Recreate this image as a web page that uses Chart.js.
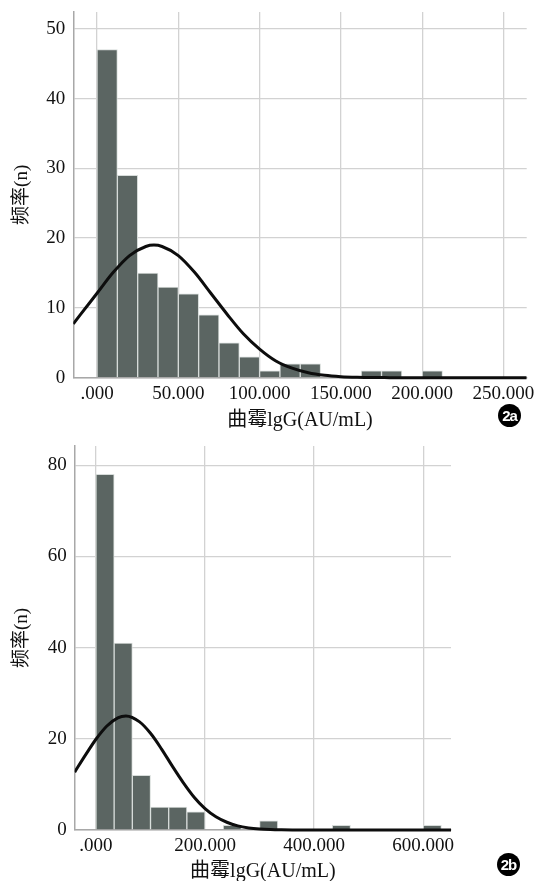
<!DOCTYPE html>
<html>
<head>
<meta charset="utf-8">
<script src="https://cdn.jsdelivr.net/npm/chart.js@4.4.1/dist/chart.umd.min.js"></script>
<style>
  html, body { margin: 0; padding: 0; background: #fff; width: 536px; height: 881px; overflow: hidden; }
  .box { position: absolute; left: 0; }
  .badge { position: absolute; width: 23px; height: 23px; border-radius: 50%; background: #000; color: #fff;
           font: bold 15px "Liberation Sans", Arial, sans-serif; text-align: center; line-height: 23px; letter-spacing: -1px; }
</style>
</head>
<body>
<div class="box" style="top:0;width:536px;height:440px"><canvas id="cA" width="536" height="440"></canvas></div>
<div class="box" style="top:440px;width:536px;height:441px"><canvas id="cB" width="536" height="441"></canvas></div>
<div class="badge" style="left:498px;top:404px">2a</div>
<div class="badge" style="left:497px;top:853px">2b</div>
<script>
// ---------- Data: chart 2a ----------
const binStartA = [0, 12.5, 25, 37.5, 50, 62.5, 75, 87.5, 100, 112.5, 125, 137.5, 150, 162.5, 175, 187.5, 200];
const countA    = [47, 29, 15, 13, 12, 9, 5, 3, 1, 2, 2, 0, 0, 1, 1, 0, 1];
const binWidthA = 12.5;
const curveXA = [-14.6, -10, 0, 10, 20, 30, 35, 40, 50, 60, 70, 80, 90, 100, 110, 120, 130, 140, 150, 160, 170, 180, 200, 264.3];
const curveYA = [7.7, 9.1, 12.1, 15.1, 17.5, 18.8, 19.0, 18.8, 17.5, 15.1, 12.1, 9.1, 6.3, 4.1, 2.4, 1.36, 0.70, 0.34, 0.15, 0.06, 0.02, 0.01, 0, 0];
const xTicksA = [0, 50, 100, 150, 200, 250];
const xTickLabelsA = ['.000', '50.000', '100.000', '150.000', '200.000', '250.000'];
const yTicksA = [0, 10, 20, 30, 40, 50];

// ---------- Data: chart 2b ----------
const binStartB = [0, 33.33, 66.67, 100, 133.33, 166.67, 200, 233.33, 266.67, 300, 333.33, 366.67, 400, 433.33, 466.67, 500, 533.33, 566.67, 600];
const countB    = [78, 41, 12, 5, 5, 4, 0, 1, 0, 2, 0, 0, 0, 1, 0, 0, 0, 0, 1];
const binWidthB = 33.33;
const curveXB = [-39, -20, 0, 20, 40, 55, 80, 100, 120, 140, 160, 180, 200, 220, 240, 260, 280, 300, 320, 340, 360, 400, 651];
const curveYB = [12.7, 16.3, 19.9, 22.8, 24.6, 25.0, 23.7, 21.2, 17.8, 14.0, 10.4, 7.2, 4.7, 2.9, 1.7, 0.9, 0.46, 0.22, 0.1, 0.04, 0.01, 0, 0];
const xTicksB = [0, 200, 400, 600];
const xTickLabelsB = ['.000', '200.000', '400.000', '600.000'];
const yTicksB = [0, 20, 40, 60, 80];

const yTitle = '频率(n)';
const xTitle = '曲霉lgG(AU/mL)';

// ---------- Builder ----------
const SERIF = "'Liberation Serif', 'Noto Sans CJK SC', serif";
function makeChart(id, cfg) {
  const barData = cfg.binStart.map((s, i) => ({ x: s + cfg.binWidth / 2, y: cfg.count[i] === 0 ? null : cfg.count[i] }));
  const lineData = cfg.curveX.map((x, i) => ({ x: x, y: cfg.curveY[i] }));
  return new Chart(document.getElementById(id), {
    type: 'bar',
    data: {
      datasets: [
        { type: 'line', data: lineData, borderColor: '#0d0d0d', borderWidth: 3, pointRadius: 0,
          cubicInterpolationMode: 'monotone', fill: false, order: 0, clip: { left: 0, right: 0, top: 0, bottom: 4 } },
        { type: 'bar', data: barData, backgroundColor: '#5b6562', borderColor: '#d7dcda', borderWidth: 1,
          barPercentage: 1, categoryPercentage: 1, order: 1 }
      ]
    },
    options: {
      responsive: false, animation: false, devicePixelRatio: 1,
      layout: { padding: cfg.padding },
      plugins: { legend: { display: false }, tooltip: { enabled: false } },
      scales: {
        x: {
          type: 'linear', position: 'bottom', min: cfg.xMin, max: cfg.xMax, offset: false,
          grid: { color: '#d2d2d2', lineWidth: 1.3, drawTicks: false, offset: false },
          border: { color: '#a8a8a8', width: 1.5 },
          ticks: { color: '#111', font: { family: SERIF, size: 19 }, padding: cfg.xTickPad, maxRotation: 0, autoSkip: false,
                   callback: (v, i) => cfg.xLabels[i] },
          afterBuildTicks: s => { s.ticks = cfg.xTicks.map(v => ({ value: v })); },
          afterFit: s => { s.height = cfg.xHeight; s.paddingLeft = 0; s.paddingRight = 0; },
          title: { display: true, text: xTitle, color: '#111', font: { family: SERIF, size: 20 }, padding: { top: 0, bottom: cfg.xTitlePad } }
        },
        y: {
          min: 0, max: cfg.yMax,
          grid: { color: '#d2d2d2', lineWidth: 1.3, drawTicks: false },
          border: { color: '#a8a8a8', width: 1.5 },
          ticks: { color: '#111', font: { family: SERIF, size: 19 }, padding: 8 },
          afterBuildTicks: s => { s.ticks = cfg.yTicks.map(v => ({ value: v })); },
          afterFit: s => { s.width = cfg.yWidth; s.paddingTop = 0; s.paddingBottom = 0; },
          title: { display: true, text: yTitle, color: '#111', font: { family: SERIF, size: 19 }, padding: { top: 11, bottom: 0 } }
        }
      }
    }
  });
}

makeChart('cA', {
  binStart: binStartA, count: countA, binWidth: binWidthA, curveX: curveXA, curveY: curveYA,
  xTicks: xTicksA, xLabels: xTickLabelsA, yTicks: yTicksA,
  xMin: -14.6, xMax: 264.3, yMax: 52.4,
  padding: { top: 12, right: 9.3, left: 0, bottom: 0 },
  xHeight: 62.3, yWidth: 73.3, xTickPad: 5, xTitlePad: 7
});
makeChart('cB', {
  binStart: binStartB, count: countB, binWidth: binWidthB, curveX: curveXB, curveY: curveYB,
  xTicks: xTicksB, xLabels: xTickLabelsB, yTicks: yTicksB,
  xMin: -39, xMax: 651, yMax: 84.2,
  padding: { top: 6, right: 85, left: 0, bottom: 0 },
  xHeight: 51, yWidth: 74.7, xTickPad: 5, xTitlePad: -3
});
</script>
</body>
</html>
